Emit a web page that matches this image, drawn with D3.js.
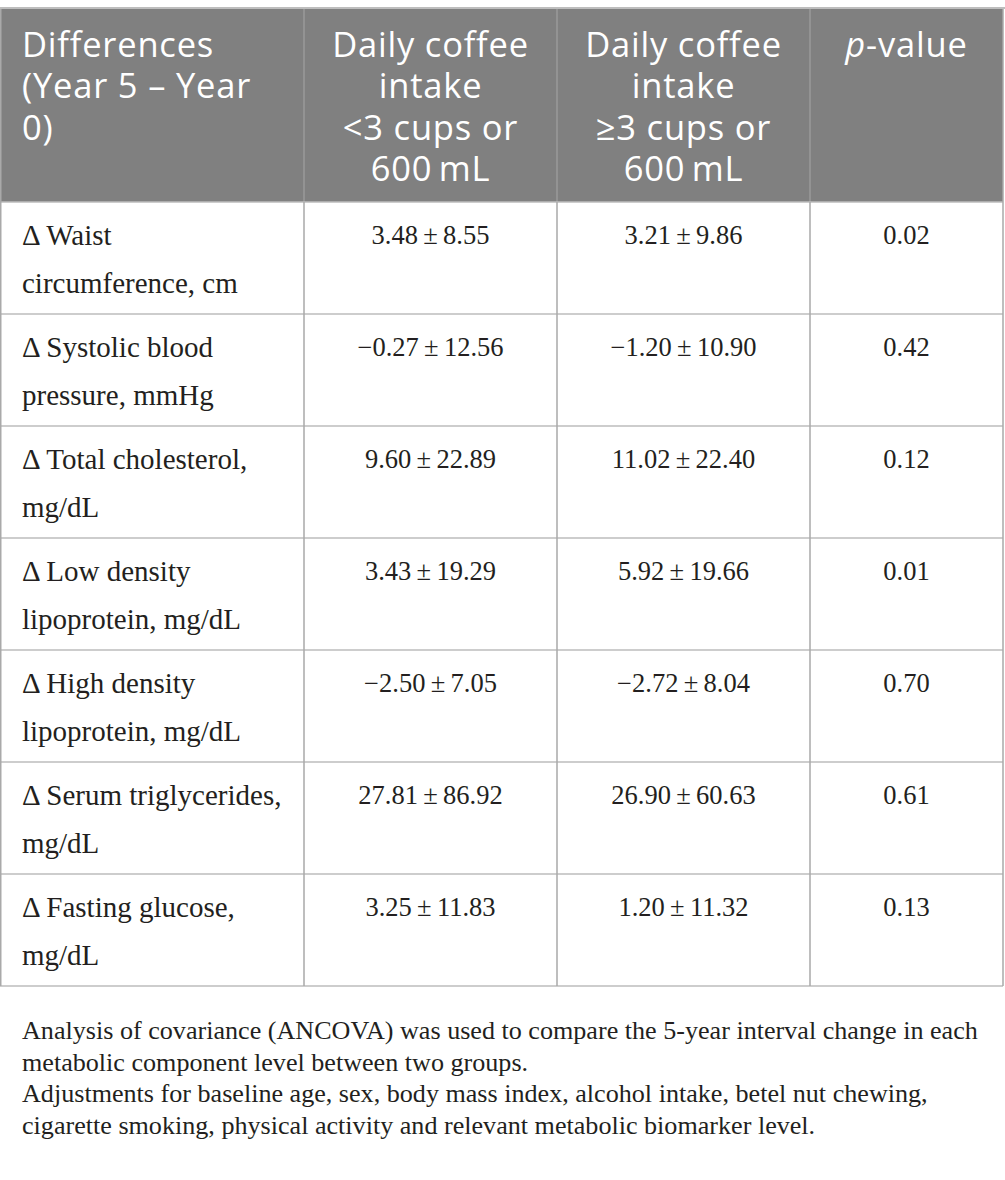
<!DOCTYPE html>
<html>
<head>
<meta charset="utf-8">
<script src="https://cdn.jsdelivr.net/npm/d3@7"></script>
<style>
  body { margin: 0; background: #fff; }
  svg { display: block; }
</style>
</head>
<body>
<svg id="Vis" width="1005" height="1180"></svg>
<script>
/* DATA */
const headerLines = [
  ["Differences", "(Year 5 \u2013 Year", "0)"],
  ["Daily coffee", "intake", "<3 cups or", "600\u2009mL"],
  ["Daily coffee", "intake", "\u22653 cups or", "600\u2009mL"],
  ["-value"]
];
const rowLabels = [
  ["\u0394 Waist", "circumference, cm"],
  ["\u0394 Systolic blood", "pressure, mmHg"],
  ["\u0394 Total cholesterol,", "mg/dL"],
  ["\u0394 Low density", "lipoprotein, mg/dL"],
  ["\u0394 High density", "lipoprotein, mg/dL"],
  ["\u0394 Serum triglycerides,", "mg/dL"],
  ["\u0394 Fasting glucose,", "mg/dL"]
];
const lowMean = [3.48, -0.27, 9.60, 3.43, -2.50, 27.81, 3.25];
const lowSd = [8.55, 12.56, 22.89, 19.29, 7.05, 86.92, 11.83];
const highMean = [3.21, -1.20, 11.02, 5.92, -2.72, 26.90, 1.20];
const highSd = [9.86, 10.90, 22.40, 19.66, 8.04, 60.63, 11.32];
const pValues = [0.02, 0.42, 0.12, 0.01, 0.70, 0.61, 0.13];
const footnotes = [
  "Analysis of covariance (ANCOVA) was used to compare the 5-year interval change in each",
  "metabolic component level between two groups.",
  "Adjustments for baseline age, sex, body mass index, alcohol intake, betel nut chewing,",
  "cigarette smoking, physical activity and relevant metabolic biomarker level."
];

/* LAYOUT */
const colEdges = [0, 304, 557, 810, 1003];
const tableTop = 9, headerBottom = 202, tableBottom = 986;
const lineColor = "#bdbdbd";
const sansFont = "'Open Sans', Lato, sans-serif";
const serifFont = "'Liberation Serif', 'DejaVu Serif', serif";

const svg = d3.select("svg#Vis");
const fmt = d3.format(".2f");
const pm = "\u2009\u00b1\u2009";

const rowScale = d3.scaleBand()
  .domain(d3.range(rowLabels.length))
  .range([headerBottom, tableBottom]);

const colScale = d3.scaleOrdinal()
  .domain(d3.range(4))
  .range(colEdges.slice(0, 4));
const colWidth = i => colEdges[i + 1] - colEdges[i];
const colMid = i => colScale(i) + colWidth(i) / 2;

/* HEADER */
const header = svg.append("g").attr("id", "header");
header.append("rect")
  .attr("x", colEdges[0]).attr("y", tableTop)
  .attr("width", colEdges[4] - colEdges[0])
  .attr("height", headerBottom - tableTop)
  .attr("fill", "#808080");

svg.append("line")
  .attr("x1", 0).attr("x2", 1005)
  .attr("y1", tableTop - 1).attr("y2", tableTop - 1)
  .attr("stroke", lineColor).attr("stroke-width", 2);

const headCells = header.selectAll("text")
  .data(headerLines)
  .enter()
  .append("text")
    .attr("x", (d, i) => i === 0 ? 22 : colMid(i))
    .attr("y", 57)
    .attr("text-anchor", (d, i) => i === 0 ? "start" : "middle")
    .attr("fill", "#fff")
    .style("font-family", sansFont)
    .style("font-size", "34.5px")
    .style("letter-spacing", "0.8px");

headCells.each(function(d, i) {
  const t = d3.select(this);
  if (i === 3) {
    t.append("tspan").style("font-style", "italic").text("p");
    t.append("tspan").text(d[0]);
    return;
  }
  d.forEach((line, j) => {
    t.append("tspan")
      .attr("x", i === 0 ? 22 : colMid(i))
      .attr("dy", j === 0 ? 0 : 41.3)
      .text(line);
  });
});

/* BODY */
const body = svg.append("g").attr("id", "body");

const rows = body.selectAll("g.row")
  .data(rowLabels)
  .enter()
  .append("g")
    .attr("class", "row")
    .attr("transform", (d, i) => translate(0, rowScale(i)));

rows.append("text")
  .attr("x", 22)
  .attr("y", 43)
  .style("font-family", serifFont)
  .style("font-size", "29px")
  .attr("fill", "#231f20")
  .each(function(d) {
    const t = d3.select(this);
    d.forEach((line, j) => {
      t.append("tspan").attr("x", 22).attr("dy", j === 0 ? 0 : 48).text(line);
    });
  });

const cellText = (i) => [
  fmt(lowMean[i]) + pm + fmt(lowSd[i]),
  fmt(highMean[i]) + pm + fmt(highSd[i]),
  fmt(pValues[i])
];

rows.selectAll("text.val")
  .data((d, i) => cellText(i))
  .enter()
  .append("text")
    .attr("class", "val")
    .attr("x", (d, j) => colMid(j + 1))
    .attr("y", 42)
    .attr("text-anchor", "middle")
    .style("font-family", serifFont)
    .style("font-size", "26.5px")
    .attr("fill", "#231f20")
    .text(d => d);

/* GRID LINES */
const grid = svg.append("g").attr("id", "grid")
  .attr("stroke", lineColor).attr("stroke-width", 1.5);

grid.selectAll("line.h")
  .data(d3.range(rowLabels.length + 1))
  .enter()
  .append("line")
    .attr("class", "h")
    .attr("x1", colEdges[0]).attr("x2", colEdges[4])
    .attr("y1", i => i < rowLabels.length ? rowScale(i) : tableBottom)
    .attr("y2", i => i < rowLabels.length ? rowScale(i) : tableBottom);

grid.selectAll("line.v")
  .data(colEdges)
  .enter()
  .append("line")
    .attr("class", "v")
    .attr("x1", d => d === 0 ? 0.75 : d).attr("x2", d => d === 0 ? 0.75 : d)
    .attr("y1", d => d > 0 && d < 1003 ? headerBottom : tableTop)
    .attr("y2", tableBottom)
    .attr("stroke", "#a9a9a9");

// header separators a little lighter than the fill
header.selectAll("line.hv")
  .data(colEdges.slice(1, 4))
  .enter()
  .append("line")
    .attr("x1", d => d).attr("x2", d => d)
    .attr("y1", tableTop).attr("y2", headerBottom)
    .attr("stroke", "#9a9a9a").attr("stroke-width", 1.5);

/* FOOTNOTES */
const notes = svg.append("g").attr("id", "notes")
  .style("font-family", serifFont)
  .attr("fill", "#231f20");

const noteText = notes.append("text")
  .attr("x", 22)
  .attr("y", 1039)
  .style("font-size", "24px");

noteText.selectAll("tspan")
  .data(footnotes)
  .enter()
  .append("tspan")
    .attr("x", 22)
    .attr("dy", (d, i) => i === 0 ? 0 : 31.7)
    .text(d => d);

// fit the first footnote line to the printed width
const firstLen = noteText.select("tspan").node().getComputedTextLength();
noteText.style("font-size", (24 * 956 / firstLen) + "px");

function translate(x, y) {
  return 'translate(' + String(x) + ',' + String(y) + ')';
}
</script>
</body>
</html>
